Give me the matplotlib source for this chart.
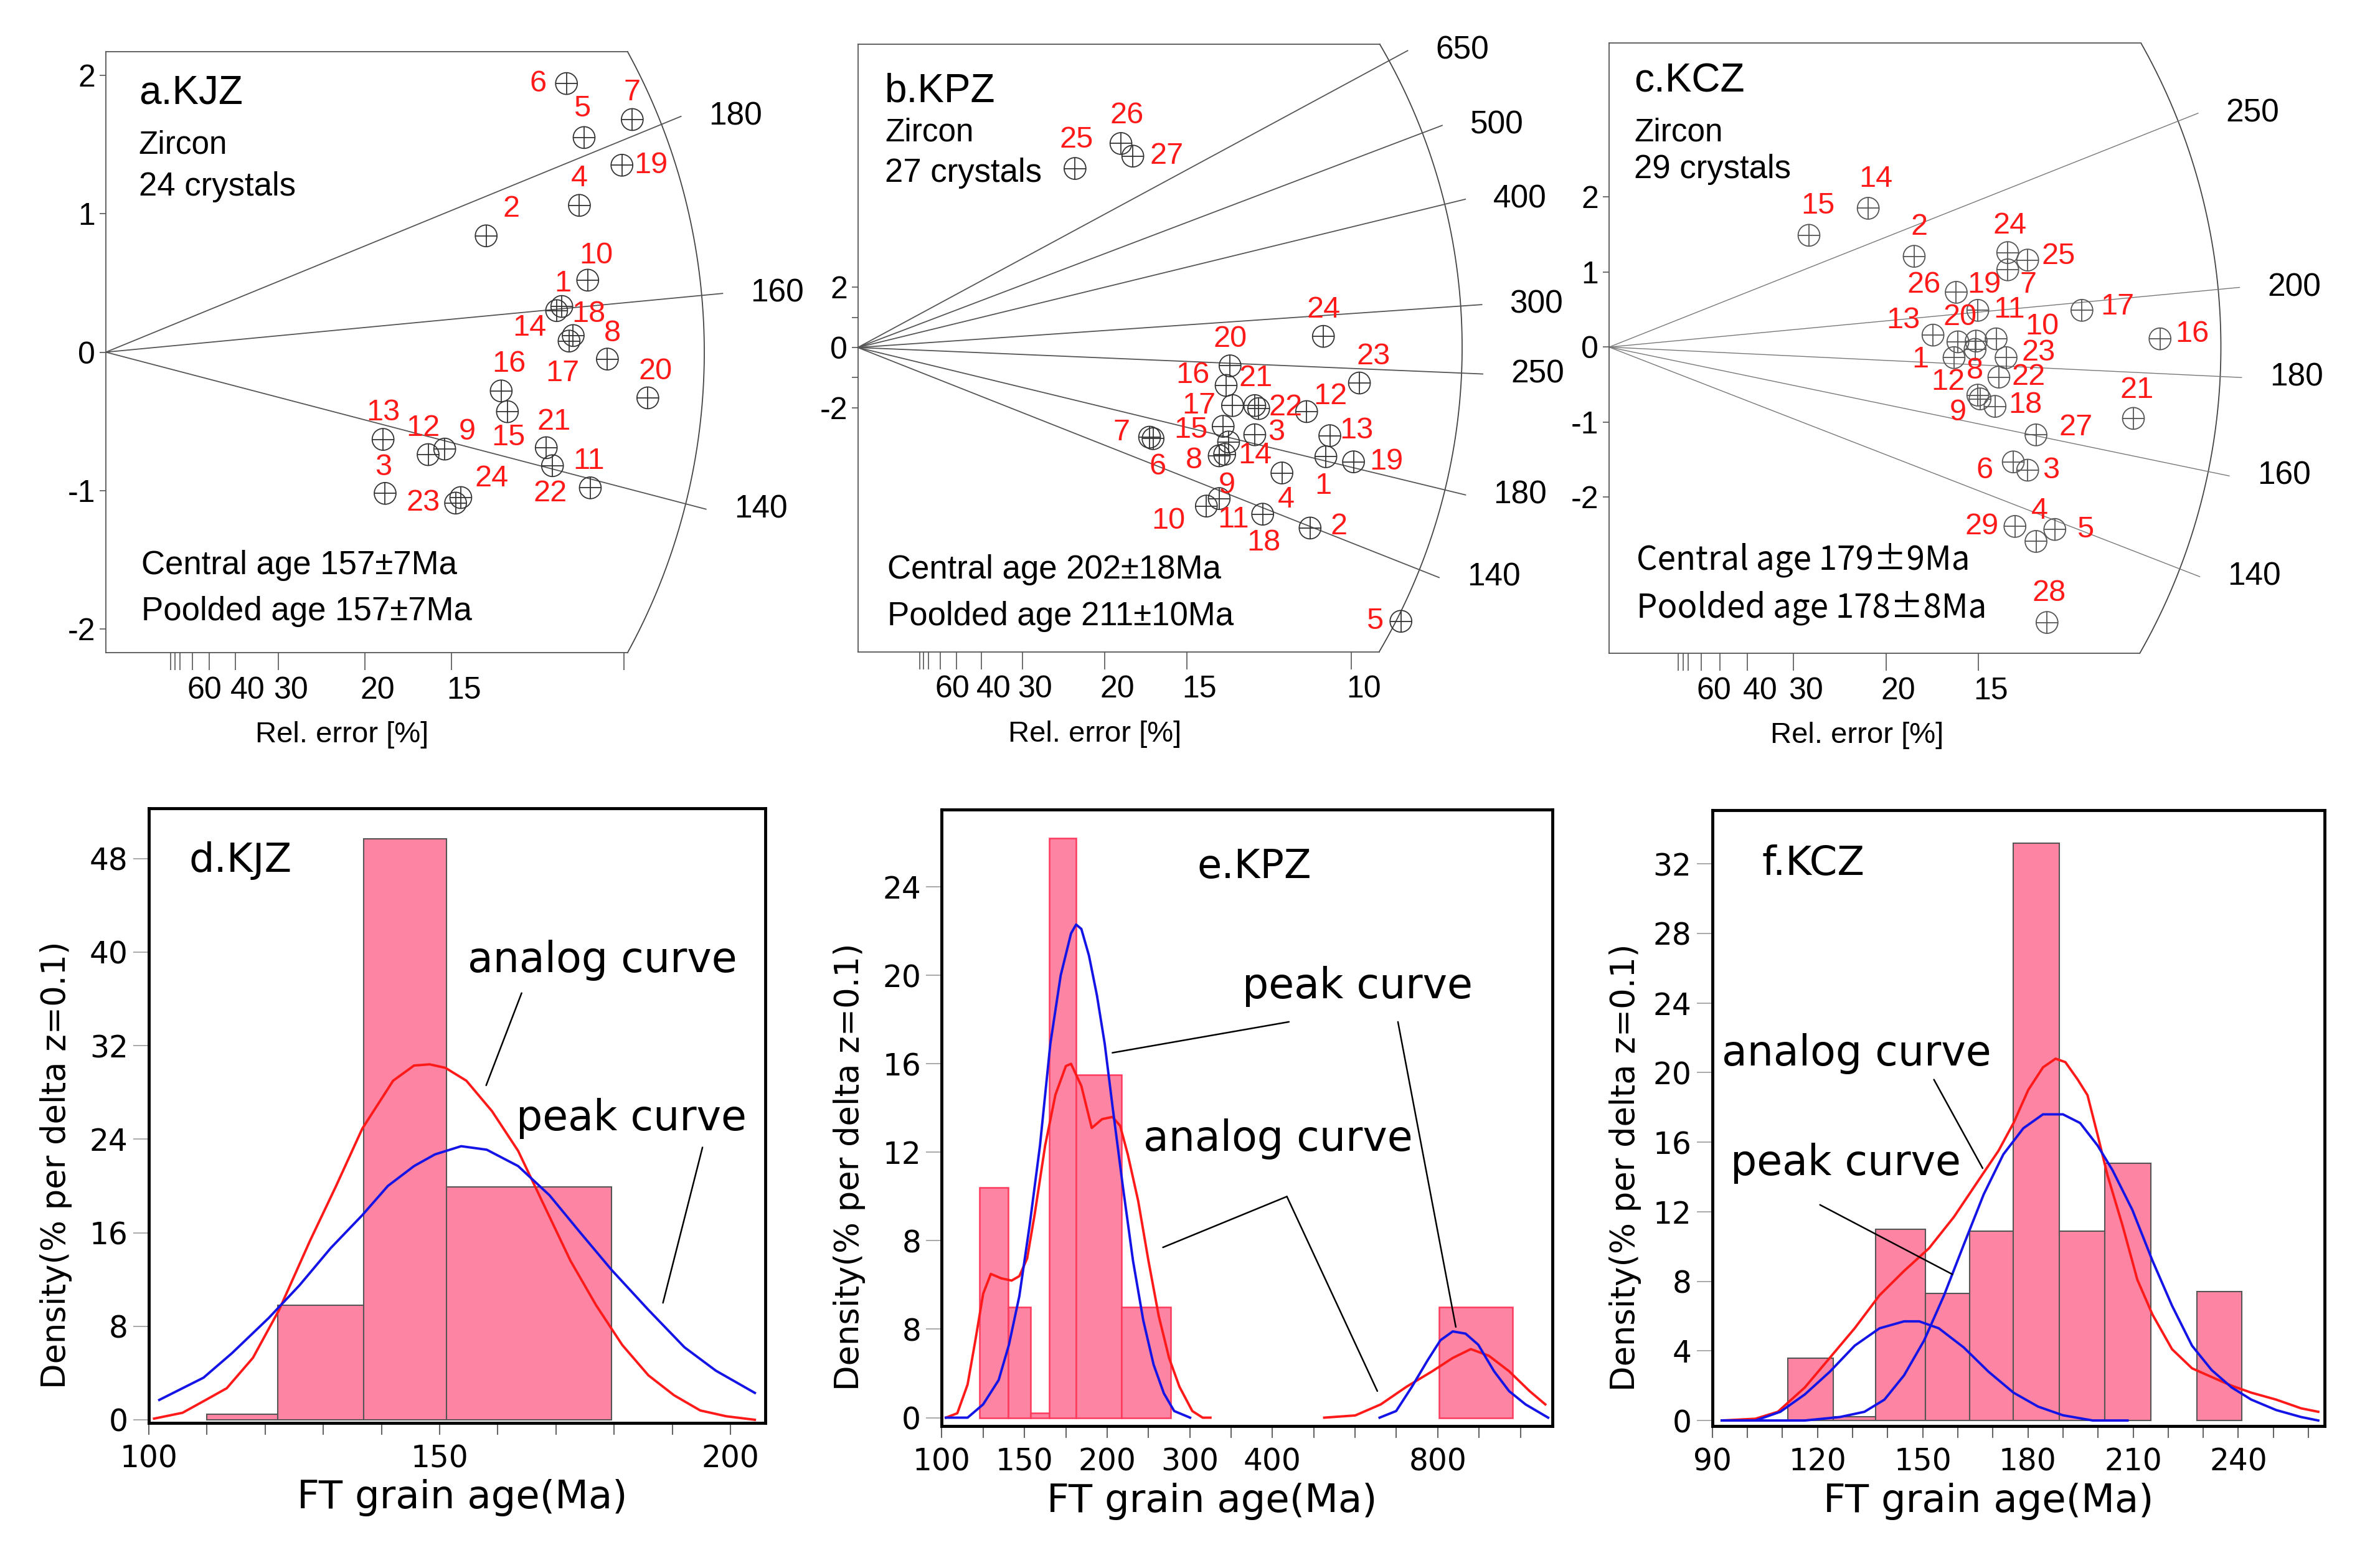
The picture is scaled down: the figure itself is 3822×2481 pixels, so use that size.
import numpy as np
import matplotlib.pyplot as plt

plt.rcParams['font.family'] = ['Liberation Sans', 'DejaVu Sans']

W, H = 3823, 2481

# ---------------- radial plots: precision (1/sigma) and standardised estimate ----------------
a_prec = [8.70, 7.34, 5.39, 9.14, 9.23, 8.89, 10.16, 9.68, 6.54, 9.30, 9.35, 6.22,
          5.35, 8.94, 7.75, 7.63, 9.02, 8.80, 9.96, 10.46, 8.50, 8.62, 6.75, 6.85]
a_z = [0.30, 0.84, -1.02, 1.06, 1.55, 1.94, 1.68, -0.05, -0.70, 0.52, -0.98, -0.74,
       -0.63, 0.08, -0.43, -0.28, 0.12, 0.33, 1.35, -0.33, -0.69, -0.82, -1.09, -1.05]
a_ages = [140, 160, 180]
a_tref = 154.4

b_prec = [9.48, 9.16, 8.04, 8.59, 11.00, 5.98, 5.91, 7.32, 7.43, 7.06, 7.32, 9.09, 9.56, 7.51,
          7.40, 7.46, 7.59, 8.20, 10.04, 7.54, 8.04, 8.12, 10.16, 9.43, 4.40, 5.33, 5.57]
b_z = [-3.63, -6.00, -2.90, -4.17, -9.10, -3.03, -2.98, -3.60, -3.55, -5.27, -5.02, -2.13, -2.93, -3.14,
       -2.62, -1.26, -1.93, -5.54, -3.80, -0.61, -1.93, -2.03, -1.18, 0.37, 5.95, 6.78, 6.36]
b_ages = [140, 180, 250, 300, 400, 500, 650]
b_tref = 268.0

c_prec = [6.23, 5.51, 7.56, 7.71, 8.05, 7.30, 7.20, 6.61, 6.70, 6.99, 6.63, 6.66, 5.85, 4.68, 3.61,
          9.95, 8.54, 6.97, 6.66, 6.30, 9.47, 7.04, 7.17, 7.20, 7.56, 6.27, 7.71, 7.91, 7.33]
c_z = [-0.14, 1.21, -1.64, -2.59, -2.43, -1.53, 1.03, -0.03, -0.69, 0.11, 0.08, -0.64, 0.16, 1.85, 1.49,
       0.11, 0.49, -0.79, 0.49, 0.07, -0.95, -0.40, -0.14, 1.26, 1.16, 0.73, -1.17, -3.67, -2.39]
c_ages = [140, 160, 180, 200, 250]
c_tref = 186.5

rel_ticks = [80, 75, 70, 60, 50, 40, 30, 20, 15, 10]

# label offsets of the grain numbers (pixels)
a_off = [(10, 43), (40, 43), (-3, 42), (0, 43), (-3, 46), (-46, 0), (0, 43), (8, 41), (36, 28),
         (14, 39), (-2, 43), (-8, 43), (0, 43), (-64, 21), (2, -41), (13, 43), (-17, -61),
         (43, -12), (47, 0), (12, 42), (12, 41), (-4, -45), (-52, 0), (50, 30)]
b_off = [(-4, -47), (46, 2), (35, 4), (7, -43), (-42, 0), (7, -45), (-45, 8), (-40, -8), (4, -50),
         (-61, -24), (23, -34), (38, 24), (43, 8), (42, -22), (-52, -6), (-54, 16), (-54, 0),
         (2, -46), (53, 0), (0, 43), (2, 44), (43, 2), (23, 43), (0, 43), (2, 46), (10, 45), (54, 0)]
c_off = [(-54, -3), (8, 47), (37, -1), (6, 49), (49, 0), (-46, -14), (33, -24), (0, -34), (-35, -22),
         (74, 20), (53, 50), (-48, 21), (-48, 24), (12, 47), (14, 47), (52, 8), (57, 6), (49, 2),
         (10, 41), (3, 39), (6, 45), (48, 0), (52, 8), (3, 43), (49, 6), (-52, 12), (64, 12),
         (3, 47), (-53, 0)]

# ---------------- histograms + density curves ----------------
d_left = [110.0, 122.2, 136.9, 151.2]
d_right = [122.2, 136.9, 151.2, 179.6]
d_height = [0.5, 9.8, 49.7, 19.9]
d_red_x = [100.9, 105.8, 109.8, 113.4, 117.9, 122.4, 127.7, 132.2, 136.7, 142.0, 145.6, 148.3, 151.0,
           154.6, 159.0, 163.5, 168.0, 172.5, 176.9, 181.4, 185.9, 190.3, 194.8, 199.3, 204.2]
d_red_y = [0.1, 0.6, 1.7, 2.7, 5.3, 9.4, 15.3, 20.0, 24.9, 29.0, 30.3, 30.4, 30.1,
           29.0, 26.4, 23.0, 18.3, 13.6, 9.8, 6.4, 3.8, 2.1, 0.8, 0.3, 0.0]
d_blue_x = [101.8, 109.4, 114.3, 120.6, 125.9, 131.3, 136.7, 141.1, 145.6, 149.2, 153.7, 158.1,
            163.5, 168.9, 174.2, 179.6, 185.9, 192.1, 197.5, 204.2]
d_blue_y = [1.7, 3.6, 5.7, 8.7, 11.5, 14.7, 17.5, 20.0, 21.7, 22.7, 23.4, 23.1,
            21.7, 19.2, 16.0, 12.8, 9.4, 6.2, 4.2, 2.3]

e_left = [117.1, 132.0, 145.1, 156.9, 175.6, 212.5, 805.0]
e_right = [132.0, 145.1, 156.9, 175.6, 212.5, 261.0, 1095.0]
e_height = [10.4, 5.0, 0.2, 26.2, 15.5, 5.0, 5.0]
e_red1_x = [101.7, 106.7, 111.4, 115.1, 118.9, 122.8, 128.3, 134.0, 138.4, 143.0, 147.6, 154.2, 161.0,
            168.2, 171.9, 179.5, 187.5, 195.8, 204.5, 211.2, 218.1, 227.8, 237.8, 248.3, 259.3, 270.8,
            285.8, 298.5, 308.4]
e_red1_y = [0.0, 0.2, 1.5, 3.5, 5.6, 6.5, 6.3, 6.2, 6.4, 7.2, 9.2, 12.3, 14.6,
            15.9, 16.0, 15.0, 13.1, 13.5, 13.6, 13.2, 11.9, 9.8, 7.1, 4.6, 2.7, 1.4,
            0.3, 0.0, 0.0]
e_red2_x = [497, 566, 630, 702, 782, 852, 919, 991, 1079, 1176, 1256]
e_red2_y = [0.0, 0.1, 0.6, 1.4, 2.1, 2.7, 3.1, 2.8, 2.1, 1.2, 0.6]
e_blue1_x = [101.7, 111.4, 118.9, 126.9, 132.5, 138.4, 144.5, 150.9, 157.6, 164.6, 171.9, 175.6,
             179.5, 185.3, 191.6, 198.0, 204.5, 213.5, 222.9, 232.7, 243.0, 253.7, 264.9, 283.2]
e_blue1_y = [0.0, 0.0, 0.6, 1.7, 3.3, 5.5, 8.7, 12.3, 16.9, 20.0, 21.9, 22.3,
             22.1, 20.9, 19.1, 16.9, 14.1, 10.5, 7.1, 4.4, 2.4, 1.1, 0.3, 0.0]
e_blue2_x = [627, 672, 718, 767, 809, 852, 899, 948, 1013, 1079, 1156, 1271]
e_blue2_y = [0.0, 0.3, 1.4, 2.6, 3.5, 3.9, 3.8, 3.3, 2.1, 1.2, 0.6, 0.0]

f_left = [111.5, 124.5, 136.5, 150.7, 163.4, 175.9, 189.0, 202.0, 228.2]
f_right = [124.5, 136.5, 150.7, 163.4, 175.9, 189.0, 202.0, 215.0, 240.9]
f_height = [3.6, 0.2, 11.0, 7.3, 10.9, 33.2, 10.9, 14.8, 7.4]
f_red_x = [92.7, 102.3, 108.7, 116.4, 123.5, 130.6, 137.7, 144.7, 151.8, 158.9, 165.9, 171.6, 175.9,
           180.1, 184.3, 187.9, 190.7, 194.2, 197.0, 199.9, 202.7, 207.0, 211.2, 215.5, 221.1, 226.8,
           232.4, 238.1, 243.7, 250.8, 257.9, 262.8]
f_red_y = [0.0, 0.1, 0.5, 1.9, 3.6, 5.3, 7.2, 8.6, 9.9, 11.7, 13.8, 15.5, 17.1,
           19.0, 20.3, 20.8, 20.6, 19.6, 18.7, 16.4, 14.1, 11.2, 8.1, 6.1, 4.1, 3.0,
           2.5, 2.0, 1.6, 1.2, 0.7, 0.5]
f_blue1_x = [92.7, 116.4, 126.4, 133.4, 139.1, 144.7, 150.4, 156.1, 161.7, 167.4, 173.0, 178.7, 184.3,
             190.0, 194.9, 199.9, 204.1, 209.8, 215.5, 221.1, 226.8, 232.4, 238.1, 243.7, 250.8,
             257.9, 262.8]
f_blue1_y = [0.0, 0.0, 0.2, 0.5, 1.2, 2.6, 4.6, 7.2, 10.1, 13.0, 15.3, 16.8, 17.6,
             17.6, 17.1, 15.8, 14.4, 12.1, 9.2, 6.6, 4.3, 2.9, 1.9, 1.2, 0.6,
             0.2, 0.0]
f_blue2_x = [92.7, 102.3, 109.4, 116.4, 123.5, 130.6, 137.7, 144.7, 149.0, 154.6, 161.7, 168.8,
             175.9, 182.9, 190.0, 198.5, 208.4]
f_blue2_y = [0.0, 0.0, 0.5, 1.5, 2.8, 4.3, 5.3, 5.7, 5.7, 5.3, 4.2, 2.8,
             1.6, 0.8, 0.3, 0.0, 0.0]

PINK = '#fd84a2'
RED = '#ff1a1a'
BLUE = '#1414e6'
BFONT = 'DejaVu Sans'

fig = plt.figure(figsize=(W / 100, H / 100), dpi=100)


def px_axes(l, t, r, b):
    return fig.add_axes([l / W, 1 - b / H, (r - l) / W, (b - t) / H])


def radial(ax, prec, z, offs, ages, t_ref, arc_a, arc_b, ylim, yticklabels, rel_labels,
           ink='#333333', line_ink='#555555', line_w=1.3):
    ybot, ytop = ylim
    ax.set_xlim(0, arc_a)
    ax.set_ylim(ybot, ytop)
    # outer arc of the radial plot
    th = np.linspace(np.arcsin(ybot / arc_b), np.arcsin(ytop / arc_b), 300)
    ax.plot(arc_a * np.cos(th), arc_b * np.sin(th), color='#444444', lw=1.3, clip_on=False)
    x_top = arc_a * np.sqrt(1 - (ytop / arc_b) ** 2)
    x_bot = arc_a * np.sqrt(1 - (ybot / arc_b) ** 2)
    for side in ['left', 'top', 'bottom']:
        ax.spines[side].set_color('#555555')
        ax.spines[side].set_linewidth(1.3)
    ax.spines['right'].set_visible(False)
    ax.spines['top'].set_bounds(0, x_top)
    ax.spines['bottom'].set_bounds(0, x_bot)
    # age rays
    for t in ages:
        m = np.log(t / t_ref)
        xe = 1.035 / np.sqrt(1 / arc_a ** 2 + m ** 2 / arc_b ** 2)
        ax.plot([0, xe], [0, m * xe], color=line_ink, lw=line_w, clip_on=False)
        ax.annotate(str(t), (xe, m * xe), xytext=(45, 0), textcoords='offset pixels',
                    ha='left', va='center', fontsize=37, annotation_clip=False)
    # grains
    ax.scatter(prec, z, s=630, facecolors='none', edgecolors=ink, linewidths=1.3, zorder=3, clip_on=False)
    ax.scatter(prec, z, s=630, marker='+', color=ink, linewidths=1.3, zorder=3, clip_on=False)
    for i, (x, y) in enumerate(zip(prec, z)):
        ax.annotate(str(i + 1), (x, y), xytext=offs[i], textcoords='offset pixels', ha='center',
                    va='center', color=RED, fontsize=35, zorder=4, annotation_clip=False)
    # relative error scale
    p = 100 / np.array(rel_ticks, dtype=float)
    ax.set_xticks(p[p <= x_bot + 1e-6])
    ax.set_xticklabels([])
    ax.tick_params(axis='x', direction='out', length=20, width=1.2, color='#555555')
    for r in rel_labels:
        ax.annotate(str(r), (100 / r, ybot), xytext=(20, -38), textcoords='offset pixels',
                    ha='center', va='top', fontsize=36, annotation_clip=False)
    ax.set_yticks([-2, -1, 0, 1, 2])
    ax.set_yticklabels(yticklabels, fontsize=36)
    ax.tick_params(axis='y', direction='out', length=7, width=1.2, color='#555555', pad=5)


# a.KJZ
ax = px_axes(170, 83, 1131, 1048)
radial(ax, a_prec, a_z, a_off, a_ages, a_tref, 11.55, 4.43, (-2.17, 2.17),
       ['-2', '-1', '0', '1', '2'], [60, 40, 30, 20, 15])
ax.text(0.055, 0.931, 'a.KJZ', transform=ax.transAxes, fontsize=46, va='center')
ax.text(0.055, 0.845, 'Zircon', transform=ax.transAxes, fontsize=37, va='center')
ax.text(0.055, 0.775, '24 crystals', transform=ax.transAxes, fontsize=38, va='center')
ax.text(0.059, 0.145, 'Central age 157±7Ma', transform=ax.transAxes, fontsize=38, va='center')
ax.text(0.059, 0.068, 'Poolded age 157±7Ma', transform=ax.transAxes, fontsize=38, va='center')
ax.text(0.395, -0.137, 'Rel. error [%]', transform=ax.transAxes, fontsize=34, ha='center', va='center')

# b.KPZ
ax = px_axes(1377.5, 71, 2348, 1046.5)
radial(ax, b_prec, b_z, b_off, b_ages, b_tref, 12.24, 20.0, (-10.11, 10.08),
       ['-2', '', '0', '', '2'], [60, 40, 30, 20, 15, 10])
ax.text(0.045, 0.923, 'b.KPZ', transform=ax.transAxes, fontsize=46, va='center')
ax.text(0.045, 0.854, 'Zircon', transform=ax.transAxes, fontsize=37, va='center')
ax.text(0.045, 0.788, '27 crystals', transform=ax.transAxes, fontsize=38, va='center')
ax.text(0.049, 0.135, 'Central age 202±18Ma', transform=ax.transAxes, fontsize=38, va='center')
ax.text(0.049, 0.058, 'Poolded age 211±10Ma', transform=ax.transAxes, fontsize=38, va='center')
ax.text(0.392, -0.136, 'Rel. error [%]', transform=ax.transAxes, fontsize=34, ha='center', va='center')

# c.KCZ
ax = px_axes(2584, 69.4, 3566.5, 1049)
radial(ax, c_prec, c_z, c_off, c_ages, c_tref, 11.05, 8.2, (-4.08, 4.05),
       ['-2', '-1', '0', '1', '2'], [60, 40, 30, 20, 15],
       ink='#555555', line_ink='#777777', line_w=1.0)
ax.text(0.041, 0.938, 'c.KCZ', transform=ax.transAxes, fontsize=46, va='center')
ax.text(0.041, 0.853, 'Zircon', transform=ax.transAxes, fontsize=37, va='center')
ax.text(0.041, 0.793, '29 crystals', transform=ax.transAxes, fontsize=38, va='center')
ax.text(0.045, 0.153, 'Central age 179±9Ma', transform=ax.transAxes, fontsize=38, va='center',
        family=['Noto Sans CJK SC', 'DejaVu Sans'])
ax.text(0.045, 0.074, 'Poolded age 178±8Ma', transform=ax.transAxes, fontsize=38, va='center',
        family=['Noto Sans CJK SC', 'DejaVu Sans'])
ax.text(0.405, -0.135, 'Rel. error [%]', transform=ax.transAxes, fontsize=34, ha='center', va='center')


def density_axes(ax, xlim, ylim, xticks, xticklabels, yticks, yticklabels, xlab_x, ylab_x):
    ax.set_xlim(*xlim)
    ax.set_ylim(*ylim)
    ax.set_xticks(xticks)
    ax.set_xticklabels(xticklabels, fontsize=35, fontfamily=BFONT)
    ax.set_yticks(yticks)
    ax.set_yticklabels(yticklabels, fontsize=35, fontfamily=BFONT)
    ax.tick_params(axis='x', direction='out', length=14, width=1.5, color='#666666', pad=10)
    ax.tick_params(axis='y', direction='out', length=18, width=1.2, color='#999999', pad=6)
    for s in ax.spines.values():
        s.set_linewidth(3.5)
    ax.set_xlabel('FT grain age(Ma)', fontsize=45, fontfamily=BFONT, va='center')
    ax.xaxis.set_label_coords(xlab_x, -0.122)
    ax.set_ylabel('Density(% per delta z=0.1)', fontsize=38, fontfamily=BFONT, va='center')
    ax.yaxis.set_label_coords(ylab_x, 0.42)


def leader(ax, start, end):
    ax.annotate('', xy=end, xytext=start,
                arrowprops=dict(arrowstyle='-', color='black', lw=1.8, shrinkA=0, shrinkB=0))


# d.KJZ
ax = px_axes(239, 1298, 1229, 2285)
ax.bar(d_left, d_height, width=np.array(d_right) - np.array(d_left), align='edge',
       color=PINK, edgecolor='#555555', lw=1.5, zorder=1)
ax.plot(d_red_x, d_red_y, color=RED, lw=2.8, zorder=3)
ax.plot(d_blue_x, d_blue_y, color=BLUE, lw=2.8, zorder=3)
density_axes(ax, (100, 206), (-0.27, 52.3), np.arange(100, 201, 10),
             ['100', '', '', '', '', '150', '', '', '', '', '200'],
             [0, 8, 16, 24, 32, 40, 48], ['0', '8', '16', '24', '32', '40', '48'], 0.508, -0.150)
ax.text(106.9, 47.8, 'd.KJZ', fontsize=46, fontfamily=BFONT, va='center')
ax.text(154.8, 39.3, 'analog curve', fontsize=48, fontfamily=BFONT, va='center')
ax.text(163.2, 25.8, 'peak curve', fontsize=48, fontfamily=BFONT, va='center')
leader(ax, (164.1, 36.5), (158.0, 28.6))
leader(ax, (195.2, 23.3), (188.4, 10.0))

# e.KPZ
ax = px_axes(1512.5, 1300, 2493, 2290)
ax.set_xscale('log')
ax.bar(e_left, e_height, width=np.array(e_right) - np.array(e_left), align='edge',
       color=PINK, edgecolor='#ff3a5c', lw=1.8, zorder=1)
ax.plot(e_red1_x, e_red1_y, color=RED, lw=2.8, zorder=3)
ax.plot(e_red2_x, e_red2_y, color=RED, lw=2.8, zorder=3)
ax.plot(e_blue1_x, e_blue1_y, color=BLUE, lw=2.8, zorder=3)
ax.plot(e_blue2_x, e_blue2_y, color=BLUE, lw=2.8, zorder=3)
ax.minorticks_off()
density_axes(ax, (101.1, 1294), (-0.38, 27.5), 100 * 2 ** (np.arange(0, 15) / 4),
             ['100', '', '150', '', '200', '', '300', '', '400', '', '', '', '800', '', ''],
             [0, 4, 8, 12, 16, 20, 24], ['0', '8', '8', '12', '16', '20', '24'], 0.442, -0.151)
ax.minorticks_off()
ax.text(371, 24.9, 'e.KPZ', fontsize=46, fontfamily=BFONT, ha='center', va='center')
ax.text(572, 19.5, 'peak curve', fontsize=48, fontfamily=BFONT, ha='center', va='center')
ax.text(409, 12.6, 'analog curve', fontsize=48, fontfamily=BFONT, ha='center', va='center')
leader(ax, (428.7, 17.9), (204.4, 16.5))
leader(ax, (677, 17.9), (863, 4.1))
leader(ax, (252.7, 7.7), (425, 10.0))
leader(ax, (425, 10.0), (621, 1.2))

# f.KCZ
ax = px_axes(2749.7, 1300.6, 3733, 2290)
ax.bar(f_left, f_height, width=np.array(f_right) - np.array(f_left), align='edge',
       color=PINK, edgecolor='#555555', lw=1.5, zorder=1)
ax.plot(f_red_x, f_red_y, color=RED, lw=2.8, zorder=3)
ax.plot(f_blue1_x, f_blue1_y, color=BLUE, lw=2.8, zorder=3)
ax.plot(f_blue2_x, f_blue2_y, color=BLUE, lw=2.8, zorder=3)
density_axes(ax, (90, 264.6), (-0.32, 35.1), np.arange(90, 261, 10),
             ['90', '', '', '120', '', '', '150', '', '', '180', '', '', '210', '', '', '240', '', ''],
             [0, 4, 8, 12, 16, 20, 24, 28, 32], ['0', '4', '8', '12', '16', '20', '24', '28', '32'],
             0.451, -0.142)
ax.text(104.1, 32.0, 'f.KCZ', fontsize=46, fontfamily=BFONT, va='center')
ax.text(92.7, 21.1, 'analog curve', fontsize=48, fontfamily=BFONT, va='center')
ax.text(95.2, 14.8, 'peak curve', fontsize=48, fontfamily=BFONT, va='center')
leader(ax, (153.2, 19.6), (167.1, 14.5))
leader(ax, (120.7, 12.4), (158.5, 8.4))

fig.savefig('out.png', dpi=100)
